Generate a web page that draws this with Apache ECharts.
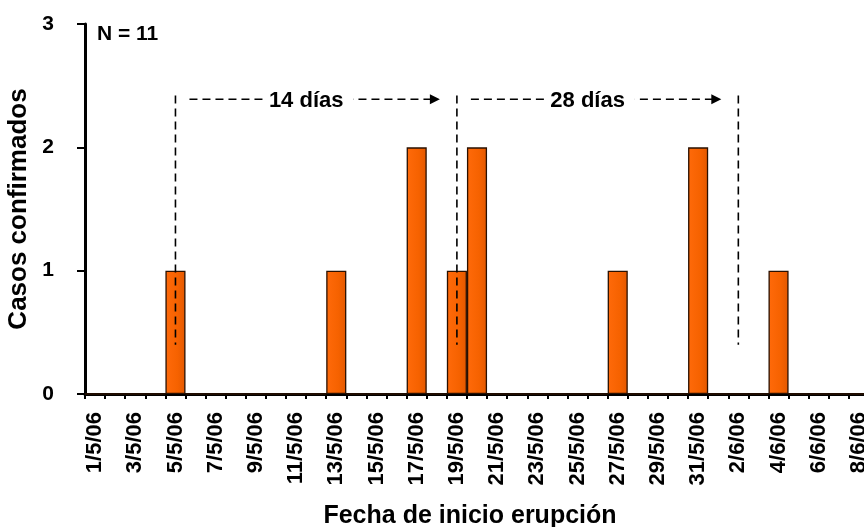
<!DOCTYPE html>
<html><head><meta charset="utf-8">
<script src="https://cdn.jsdelivr.net/npm/echarts@6/dist/echarts.min.js"></script>
<style>html,body{margin:0;padding:0;background:#fff}#c{width:864px;height:527px}</style>
</head><body><div id="c"></div>
<script>
const categories = [
  '1/5/06','2/5/06','3/5/06','4/5/06','5/5/06','6/5/06','7/5/06','8/5/06','9/5/06','10/5/06',
  '11/5/06','12/5/06','13/5/06','14/5/06','15/5/06','16/5/06','17/5/06','18/5/06','19/5/06','20/5/06',
  '21/5/06','22/5/06','23/5/06','24/5/06','25/5/06','26/5/06','27/5/06','28/5/06','29/5/06','30/5/06',
  '31/5/06','1/6/06','2/6/06','3/6/06','4/6/06','5/6/06','6/6/06','7/6/06','8/6/06'
];
const casos = [
  0,0,0,0,1,0,0,0,0,0,
  0,0,1,0,0,0,2,0,1,2,
  0,0,0,0,0,0,1,0,0,0,
  2,0,0,0,1,0,0,0,0
];
const yTicks = [0, 1, 2, 3];
const markerDates = ['5/5/06', '19/5/06', '2/6/06'];
const intervalLabels = ['14 días', '28 días'];
const nLabel = 'N = 11';
const yTitle = 'Casos confirmados';
const xTitle = 'Fecha de inicio erupción';

const FONT = '"Liberation Sans", Arial, sans-serif';
const chart = echarts.init(document.getElementById('c'), null, {renderer: 'canvas'});
chart.setOption({
  backgroundColor: '#ffffff',
  animation: false,
  grid: {left: 85, top: 24, width: 784, height: 370, containLabel: false, outerBoundsMode: 'none'},
  xAxis: {
    type: 'category',
    data: categories,
    boundaryGap: true,
    name: xTitle,
    nameLocation: 'middle',
    nameGap: 110,
    nameTextStyle: {fontFamily: FONT, fontWeight: 'bold', fontSize: 25, color: '#000', verticalAlign: 'top', padding: [0, 14, 0, 0]},
    axisLine: {lineStyle: {color: '#000', width: 3}},
    axisTick: {show: true, interval: 0, length: 5, lineStyle: {color: '#000', width: 2}},
    axisLabel: {interval: 1, rotate: 90, margin: 18, fontFamily: FONT, fontWeight: 'bold', fontSize: 22, color: '#000'},
    splitLine: {show: false}
  },
  yAxis: {
    type: 'value',
    min: yTicks[0],
    max: yTicks[yTicks.length - 1],
    interval: 1,
    name: yTitle,
    nameLocation: 'middle',
    nameRotate: 90,
    nameGap: 53,
    nameTextStyle: {fontFamily: FONT, fontWeight: 'bold', fontSize: 26, color: '#000'},
    axisLine: {show: true, lineStyle: {color: '#000', width: 3}},
    axisTick: {show: true, length: 8, lineStyle: {color: '#000', width: 2}},
    axisLabel: {margin: 31, fontFamily: FONT, fontWeight: 'bold', fontSize: 21, color: '#000'},
    splitLine: {show: false}
  },
  series: [{
    type: 'bar',
    data: casos,
    barCategoryGap: '0%',
    itemStyle: {
      color: new echarts.graphic.LinearGradient(0, 0, 1, 0, [
        {offset: 0, color: '#ff6a0a'},
        {offset: 0.6, color: '#f66200'},
        {offset: 1, color: '#e35800'}
      ]),
      borderColor: '#2a1000',
      borderWidth: 1.3
    }
  }]
});

const px = (cat, v) => chart.convertToPixel({xAxisIndex: 0, yAxisIndex: 0}, [cat, v]);
const g = [];
const dash = {stroke: '#000', lineWidth: 1.6, lineDash: [8, 5]};
const xs = markerDates.map(d => px(d, 0)[0]);
const yTop = px(markerDates[0], 2.42)[1];
const yBot = px(markerDates[0], 0.4)[1];
const yH = px(markerDates[0], 2.39)[1];
xs.forEach(x => {
  g.push({type: 'line', silent: true, z: 100, shape: {x1: x, y1: yTop, x2: x, y2: yBot}, style: dash});
});
intervalLabels.forEach((lab, i) => {
  const xa = xs[i], xb = xs[i + 1];
  const tip = xb - 17;
  g.push({type: 'line', silent: true, z: 100, shape: {x1: xa + 14, y1: yH, x2: tip - 8, y2: yH}, style: dash});
  g.push({type: 'polygon', silent: true, z: 101, shape: {points: [[tip - 10, yH - 5], [tip, yH], [tip - 10, yH + 5]]}, style: {fill: '#000'}});
  g.push({type: 'text', silent: true, z: 102, x: (xa + xb) / 2 - 7, y: yH + 2,
    style: {text: lab, fontFamily: FONT, fontWeight: 'bold', fontSize: 22, fill: '#000',
      align: 'center', verticalAlign: 'middle', backgroundColor: '#fff', padding: [2, 10, 2, 4]}});
});
const top3 = px(categories[0], 3);
g.push({type: 'text', silent: true, z: 102, x: 97, y: top3[1] + 10,
  style: {text: nLabel, fontFamily: FONT, fontWeight: 'bold', fontSize: 21, fill: '#000', align: 'left', verticalAlign: 'middle'}});
chart.setOption({graphic: g});
</script>
</body></html>
